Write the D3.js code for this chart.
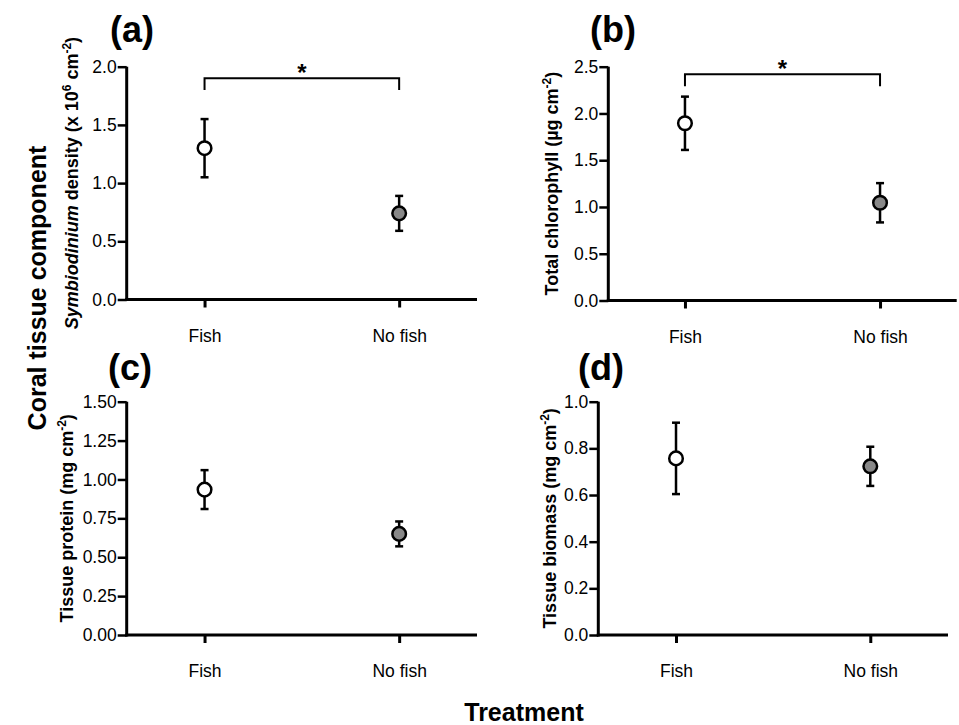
<!DOCTYPE html>
<html><head><meta charset="utf-8">
<script src="https://cdn.jsdelivr.net/npm/d3@7"></script>
<style>
body{margin:0;background:#fff}
text{font-family:"Liberation Sans",Arial,Helvetica,sans-serif;fill:#000}
</style>
</head><body>
<svg id="chart" width="959" height="725"></svg>
<script>
// ---- data ----
const categories = ["Fish", "No fish"];
const symbiodiniumMean = [1.30, 0.74];
const symbiodiniumSE   = [0.25, 0.15];
const chlorophyllMean  = [1.895, 1.045];
const chlorophyllSE    = [0.285, 0.21];
const proteinMean      = [0.935, 0.65];
const proteinSE        = [0.125, 0.08];
const biomassMean      = [0.757, 0.723];
const biomassSE        = [0.153, 0.084];
const ticksA = [0, 0.5, 1.0, 1.5, 2.0];
const ticksB = [0, 0.5, 1.0, 1.5, 2.0, 2.5];
const ticksC = [0, 0.25, 0.5, 0.75, 1.0, 1.25, 1.5];
const ticksD = [0, 0.2, 0.4, 0.6, 0.8, 1.0];
const sigA = {top: 1.9, drop: 1.8, label: "*"};
const sigB = {top: 2.42, drop: 2.29, label: "*"};
const fills = ["#ffffff", "#888888"];

const svg = d3.select("#chart");

const panels = [
  {label:"(a)", lx:110, ly:41.5, x0:126.7, x1:477, yTop:66.7, yBot:299.5, pad:0.4,
   ticks:ticksA, fmt:d3.format(".1f"), mean:symbiodiniumMean, se:symbiodiniumSE, sig:sigA,
   titleX:78, title:"a"},
  {label:"(b)", lx:590, ly:41.5, x0:608.3, x1:956.7, yTop:66.7, yBot:300.5, pad:0.393,
   ticks:ticksB, fmt:d3.format(".1f"), mean:chlorophyllMean, se:chlorophyllSE, sig:sigB,
   titleX:558, title:"Total chlorophyll (µg cm", sup:"-2"},
  {label:"(c)", lx:108, ly:380, x0:126.7, x1:477, yTop:401.7, yBot:635, pad:0.4,
   ticks:ticksC, fmt:d3.format(".2f"), mean:proteinMean, se:proteinSE, sig:null,
   titleX:73, title:"Tissue protein (mg cm", sup:"-2"},
  {label:"(d)", lx:578, ly:380, x0:598.3, x1:948, yTop:401.7, yBot:635, pad:0.4,
   ticks:ticksD, fmt:d3.format(".1f"), mean:biomassMean, se:biomassSE, sig:null,
   titleX:556, title:"Tissue biomass (mg cm", sup:"-2"}
];

panels.forEach(p => {
  const g = svg.append("g");
  const x = d3.scalePoint().domain(categories).range([p.x0, p.x1]).padding(p.pad);
  const y = d3.scaleLinear().domain([p.ticks[0], p.ticks[p.ticks.length-1]]).range([p.yBot, p.yTop]);

  // y axis
  const ya = d3.axisLeft(y).tickValues(p.ticks).tickFormat(p.fmt).tickSize(9).tickPadding(1).tickSizeOuter(0);
  const gy = g.append("g").attr("transform", `translate(${p.x0},0)`).call(ya);
  gy.select(".domain").attr("stroke", "#000").attr("stroke-width", 3)
    .attr("d", `M0,${p.yTop}V${p.yBot+1.5}`);
  gy.selectAll(".tick line").attr("stroke", "#000").attr("stroke-width", 2.5);
  gy.selectAll(".tick text").attr("font-size", 17.5).attr("fill", "#000")
    .attr("font-family", '"Liberation Sans",Arial,sans-serif');

  // x axis
  const xa = d3.axisBottom(x).tickSize(8).tickPadding(22).tickSizeOuter(0);
  const gx = g.append("g").attr("transform", `translate(0,${p.yBot})`).call(xa);
  gx.select(".domain").attr("stroke", "#000").attr("stroke-width", 3)
    .attr("d", `M${p.x0-1.5},0H${p.x1}`);
  gx.selectAll(".tick line").attr("stroke", "#000").attr("stroke-width", 3);
  gx.selectAll(".tick text").attr("font-size", 17.5).attr("fill", "#000")
    .attr("font-family", '"Liberation Sans",Arial,sans-serif');

  // panel label
  g.append("text").attr("x", p.lx).attr("y", p.ly).attr("font-size", 36)
    .attr("font-weight", "bold").text(p.label);

  // y title
  const cy = (p.yTop + p.yBot) / 2;
  const t = g.append("text").attr("transform", `translate(${p.titleX},${cy}) rotate(-90)`)
    .attr("text-anchor", "middle").attr("font-size", 18).attr("font-weight", "bold");
  if (p.title === "a") {
    t.append("tspan").attr("font-style", "italic").text("Symbiodinium");
    t.append("tspan").text(" density (x 10");
    t.append("tspan").attr("font-size", 12).attr("dy", -7).text("6");
    t.append("tspan").attr("dy", 7).text(" cm");
    t.append("tspan").attr("font-size", 12).attr("dy", -7).text("-2");
    t.append("tspan").attr("dy", 7).text(")");
  } else {
    t.append("tspan").text(p.title);
    t.append("tspan").attr("font-size", 12).attr("dy", -7).text(p.sup);
    t.append("tspan").attr("dy", 7).text(")");
  }

  // error bars
  const data = categories.map((c, i) => ({c, m: p.mean[i], se: p.se[i], fill: fills[i]}));
  const eb = g.append("g").attr("stroke", "#000").attr("stroke-width", 2.5).attr("fill", "none");
  data.forEach(d => {
    const cx = x(d.c);
    eb.append("line").attr("x1", cx).attr("x2", cx).attr("y1", y(d.m - d.se)).attr("y2", y(d.m + d.se));
    eb.append("line").attr("x1", cx-4).attr("x2", cx+4).attr("y1", y(d.m + d.se)).attr("y2", y(d.m + d.se));
    eb.append("line").attr("x1", cx-4).attr("x2", cx+4).attr("y1", y(d.m - d.se)).attr("y2", y(d.m - d.se));
  });
  g.selectAll("circle.pt").data(data).join("circle").attr("class", "pt")
    .attr("cx", d => x(d.c)).attr("cy", d => y(d.m)).attr("r", 6.8)
    .attr("fill", d => d.fill).attr("stroke", "#000").attr("stroke-width", 2.5);

  // significance bracket
  if (p.sig) {
    const xa1 = x(categories[0]), xa2 = x(categories[1]);
    g.append("path").attr("fill", "none").attr("stroke", "#000").attr("stroke-width", 2)
      .attr("d", `M${xa1},${y(p.sig.drop)}V${y(p.sig.top)}H${xa2}V${y(p.sig.drop)}`);
    g.append("text").attr("x", (xa1 + xa2) / 2).attr("y", y(p.sig.top) + 3)
      .attr("text-anchor", "middle").attr("font-size", 24).attr("font-weight", "bold").text(p.sig.label);
  }
});

// shared titles
svg.append("text").attr("transform", "translate(46,288) rotate(-90)").attr("text-anchor", "middle")
  .attr("font-size", 25).attr("font-weight", "bold").text("Coral tissue component");
svg.append("text").attr("x", 524).attr("y", 721).attr("text-anchor", "middle")
  .attr("font-size", 25).attr("font-weight", "bold").text("Treatment");
</script>
</body></html>
